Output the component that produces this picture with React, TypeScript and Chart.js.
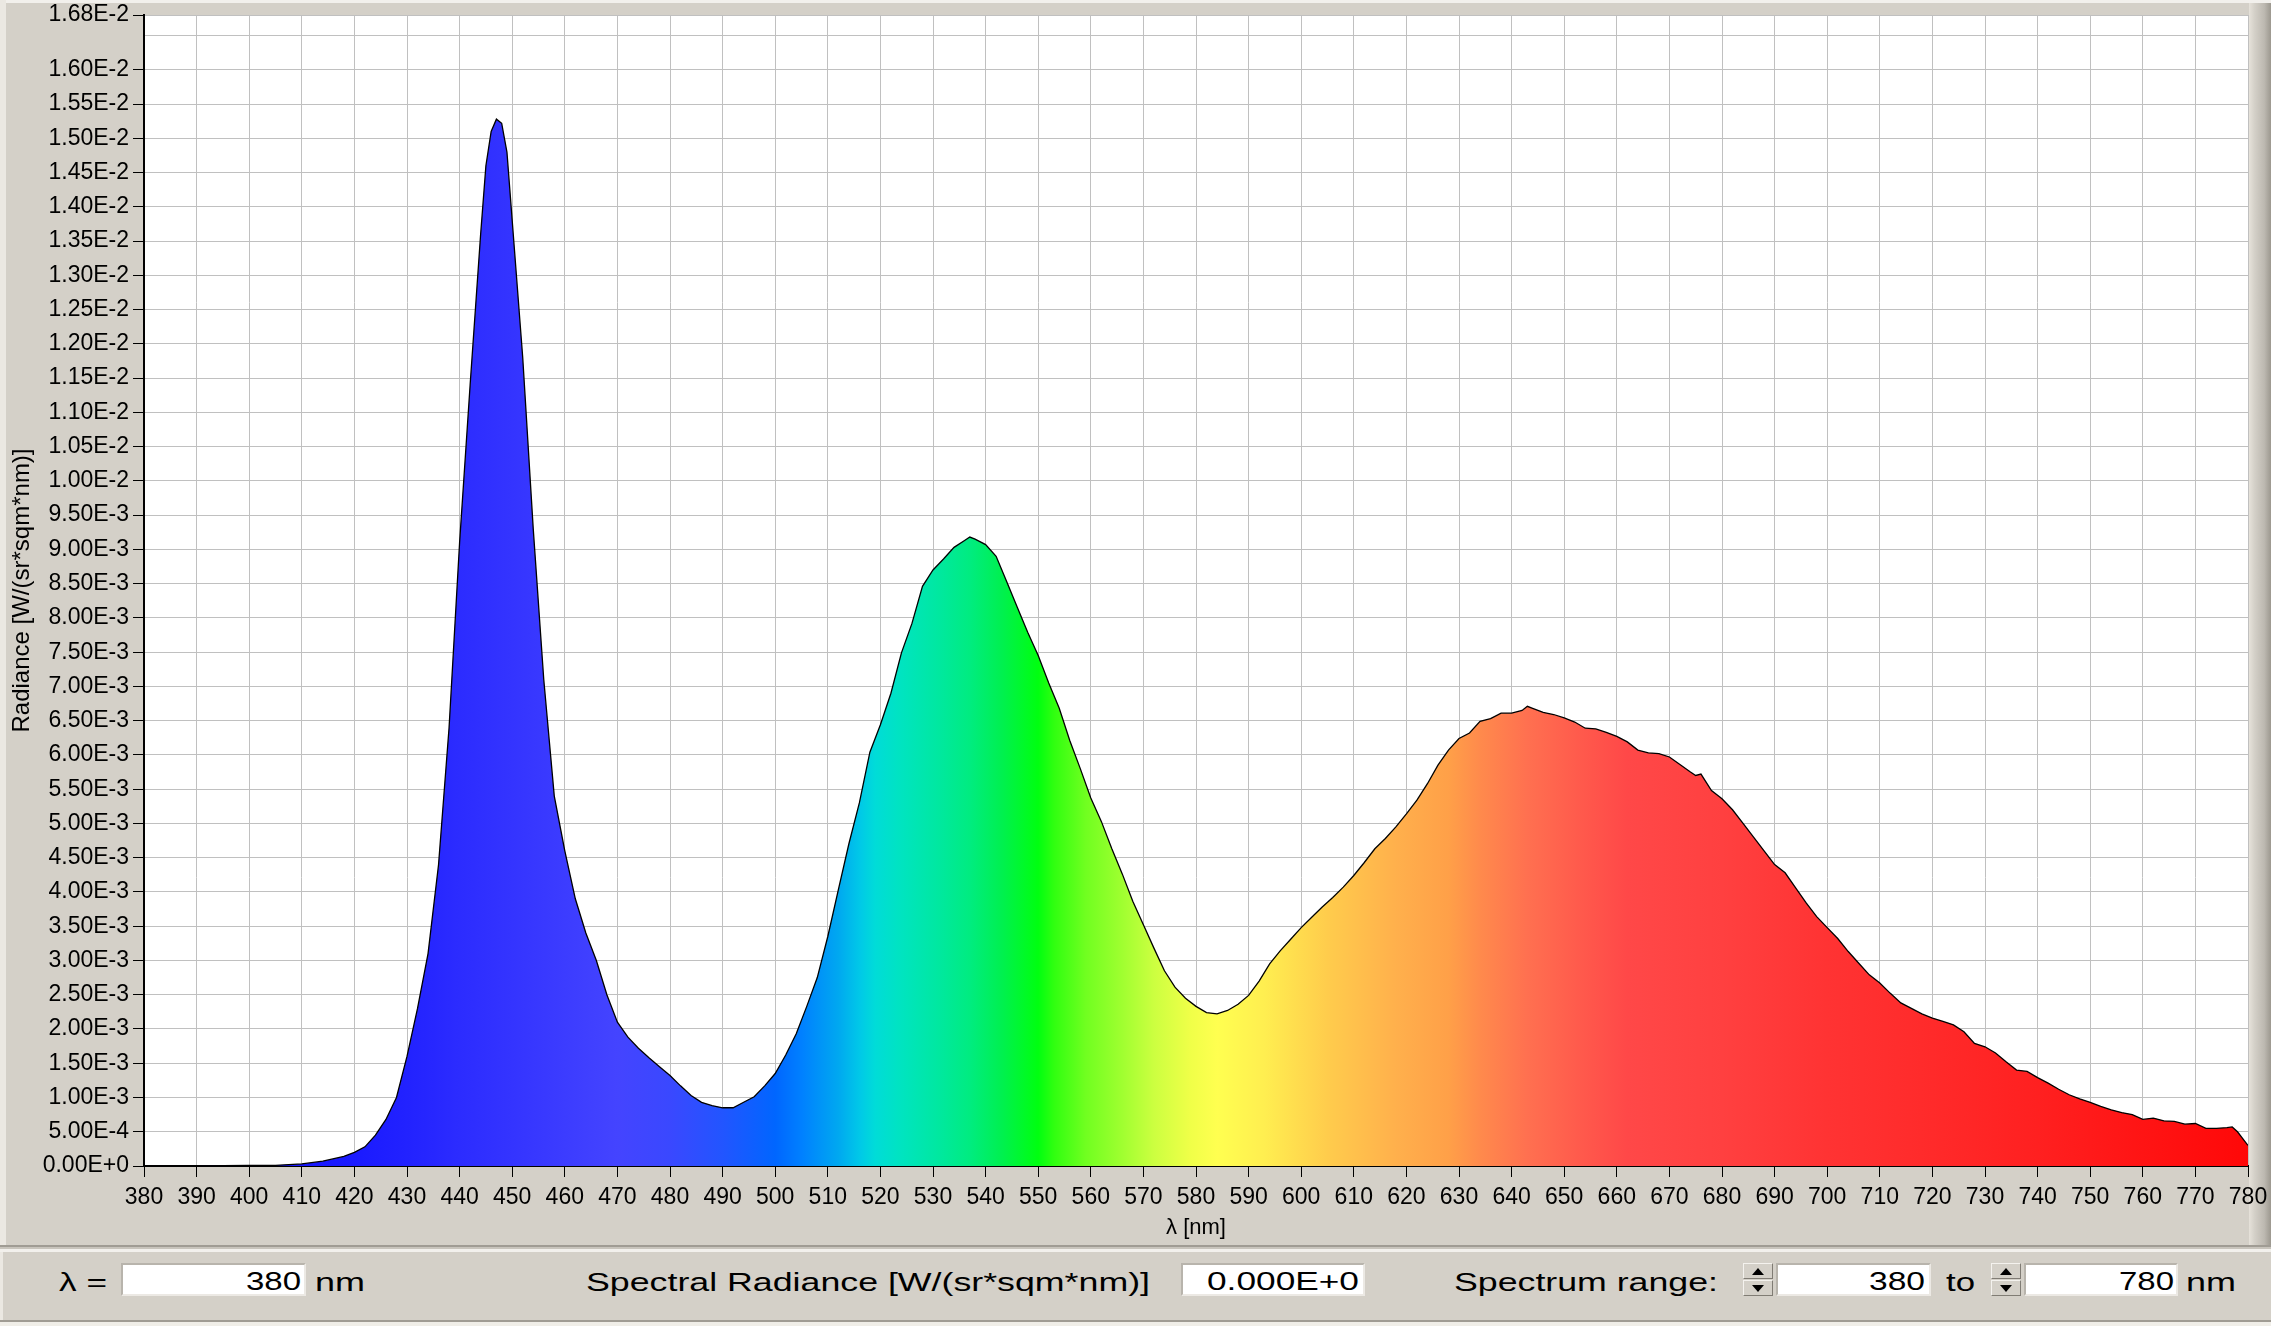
import React, { useEffect, useLayoutEffect, useRef } from 'react';
import { Chart, registerables } from 'chart.js';

Chart.register(...registerables);

// ---------------- DATA ----------------
const WAVELENGTHS = [
  380, 390, 400, 405, 410, 414, 418, 420, 422, 424, 426, 428, 430, 432, 434, 436, 438, 440, 442, 444,
  445, 446, 447, 448, 449, 450, 452, 454, 456, 458, 460, 462, 464, 466, 468, 470, 472, 474, 476, 478,
  480, 482, 484, 486, 488, 490, 492, 494, 496, 498, 500, 502, 504, 506, 508, 510, 512, 514, 516, 518,
  520, 522, 524, 526, 528, 530, 532, 534, 536, 537, 538, 540, 542, 544, 546, 548, 550, 552, 554, 556,
  558, 560, 562, 564, 566, 568, 570, 572, 574, 576, 578, 580, 582, 584, 586, 588, 590, 592, 594, 596,
  598, 600, 602, 604, 606, 608, 610, 612, 614, 616, 618, 620, 622, 624, 626, 628, 630, 632, 634, 636,
  638, 640, 642, 643, 644, 646, 648, 650, 652, 654, 656, 658, 660, 662, 664, 666, 668, 670, 672, 674,
  675, 676, 678, 680, 682, 684, 686, 688, 690, 692, 694, 696, 698, 700, 702, 704, 706, 708, 710, 712,
  714, 716, 718, 720, 722, 724, 726, 728, 730, 732, 734, 736, 738, 740, 742, 744, 746, 748, 750, 752,
  754, 756, 758, 760, 762, 764, 766, 768, 770, 772, 774, 776, 777, 778, 780,
];

const RADIANCE = [
  0, 0, 0.00001, 0.00001, 0.00003, 0.00007, 0.00014, 0.0002, 0.00028, 0.00045, 0.00068, 0.001, 0.0016, 0.0023, 0.0031, 0.0044, 0.0064, 0.0091, 0.0114, 0.0136,
  0.0146, 0.0151, 0.01528, 0.01522, 0.0148, 0.0138, 0.0118, 0.0093, 0.0071, 0.0054, 0.0046, 0.0039, 0.0034, 0.003, 0.0025, 0.0021, 0.00188, 0.00172, 0.00158, 0.00145,
  0.00132, 0.00117, 0.00103, 0.00093, 0.00088, 0.00085, 0.00085, 0.00093, 0.00101, 0.00117, 0.00135, 0.00162, 0.00193, 0.00233, 0.00275, 0.00335, 0.00403, 0.0047, 0.0053, 0.00604,
  0.00644, 0.0069, 0.00749, 0.00792, 0.00846, 0.0087, 0.00886, 0.00903, 0.00913, 0.00918, 0.00915, 0.00907, 0.0089, 0.00853, 0.00816, 0.00779, 0.00745, 0.00705, 0.00668, 0.00621,
  0.0058, 0.00537, 0.00503, 0.00463, 0.00426, 0.00386, 0.00352, 0.00318, 0.00285, 0.00261, 0.00245, 0.00233, 0.00224, 0.00222, 0.00227, 0.00236, 0.00249, 0.0027, 0.00295, 0.00314,
  0.00331, 0.00348, 0.00363, 0.00378, 0.00392, 0.00407, 0.00424, 0.00443, 0.00463, 0.00478, 0.00495, 0.00514, 0.00534, 0.00558, 0.00585, 0.00607, 0.00624, 0.00632, 0.00649, 0.00653,
  0.00661, 0.00661, 0.00665, 0.00671, 0.00668, 0.00662, 0.00659, 0.00654, 0.00648, 0.00639, 0.00638, 0.00633, 0.00627, 0.00619, 0.00607, 0.00603, 0.00602, 0.00597, 0.00586, 0.00575,
  0.0057, 0.00572, 0.00548, 0.00536, 0.0052, 0.005, 0.0048, 0.0046, 0.0044, 0.00428, 0.00406, 0.00384, 0.00364, 0.00348, 0.00332, 0.00313, 0.00296, 0.00279, 0.00267, 0.00252,
  0.00238, 0.0023, 0.00222, 0.00216, 0.00211, 0.00206, 0.00196, 0.00179, 0.00174, 0.00165, 0.00152, 0.0014, 0.00138, 0.00129, 0.00121, 0.00112, 0.00104, 0.00098, 0.00093, 0.00087,
  0.00082, 0.00078, 0.00075, 0.00068, 0.0007, 0.00066, 0.00065, 0.00061, 0.00062, 0.00055, 0.00055, 0.00056, 0.00057, 0.0005, 0.0003,
];

const X_TICKS = [
  380, 390, 400, 410, 420, 430, 440, 450, 460, 470, 480, 490, 500, 510, 520, 530, 540, 550, 560, 570, 580,
  590, 600, 610, 620, 630, 640, 650, 660, 670, 680, 690, 700, 710, 720, 730, 740, 750, 760, 770, 780,
];

const Y_TICKS = [
  0, 0.0005, 0.001, 0.0015, 0.002, 0.0025, 0.003, 0.0035, 0.004, 0.0045, 0.005, 0.0055, 0.006, 0.0065,
  0.007, 0.0075, 0.008, 0.0085, 0.009, 0.0095, 0.01, 0.0105, 0.011, 0.0115, 0.012, 0.0125, 0.013, 0.0135,
  0.014, 0.0145, 0.015, 0.0155, 0.016, 0.0165, 0.0168,
];

const Y_TICK_LABELS = [
  '0.00E+0', '5.00E-4', '1.00E-3', '1.50E-3', '2.00E-3', '2.50E-3', '3.00E-3', '3.50E-3', '4.00E-3', '4.50E-3',
  '5.00E-3', '5.50E-3', '6.00E-3', '6.50E-3', '7.00E-3', '7.50E-3', '8.00E-3', '8.50E-3', '9.00E-3', '9.50E-3',
  '1.00E-2', '1.05E-2', '1.10E-2', '1.15E-2', '1.20E-2', '1.25E-2', '1.30E-2', '1.35E-2', '1.40E-2', '1.45E-2',
  '1.50E-2', '1.55E-2', '1.60E-2', '', '1.68E-2',
];

// spectral fill colour stops
const SPECTRUM_NM = [
  380, 420, 430, 440, 450, 460, 470, 480, 490, 500, 505, 512, 516, 519, 524, 531, 537, 543, 550, 553,
  559, 566, 572, 579, 584, 593, 605, 618, 628, 634, 643, 653, 662, 680, 700, 720, 740, 760, 780,
];
const SPECTRUM_COLORS = [
  '#1010ff', '#1a1aff', '#2222ff', '#2c2cff', '#3434ff', '#3c3cff', '#4444ff', '#3a48ff', '#2255ff', '#0066ff',
  '#0080ff', '#00a8f0', '#00c8e8', '#00dcd8', '#00e4c0', '#00e8a0', '#00ec80', '#00f050', '#00ff10', '#30ff10',
  '#70ff20', '#a0ff30', '#ccff40', '#f0ff48', '#ffff50', '#ffee50', '#ffcc4c', '#ffb04c', '#ffa048', '#ff8a4c',
  '#ff7050', '#ff5a4c', '#ff4848', '#ff4040', '#ff3333', '#ff2a2a', '#ff2020', '#ff1414', '#ff0808',
];

const FONT = '"Liberation Sans", Arial, Helvetica, sans-serif';
const BG = '#d4d0c8';
const X_MIN = X_TICKS[0];
const X_MAX = X_TICKS[X_TICKS.length - 1];
const Y_MAX = Y_TICKS[Y_TICKS.length - 1];

function spectrumFill(context: any) {
  const chart = context.chart;
  const xs = chart.scales && chart.scales.x;
  if (!chart.chartArea || !xs) return '#3333ff';
  const g = chart.ctx.createLinearGradient(xs.getPixelForValue(X_MIN), 0, xs.getPixelForValue(X_MAX), 0);
  SPECTRUM_NM.forEach((nm, i) => g.addColorStop((nm - X_MIN) / (X_MAX - X_MIN), SPECTRUM_COLORS[i]));
  return g;
}

const plotBackground = {
  id: 'plotBackground',
  beforeDraw(chart: any) {
    const { ctx, chartArea: a } = chart;
    if (!a) return;
    ctx.save();
    ctx.fillStyle = '#ffffff';
    ctx.fillRect(a.left, a.top, a.right - a.left, a.bottom - a.top);
    ctx.restore();
  },
};

function FitText({ text, left, width, baseline, size = 25 }: { text: string; left: number; width: number; baseline: number; size?: number }) {
  const ref = useRef<HTMLSpanElement>(null);
  useLayoutEffect(() => {
    const el = ref.current;
    if (!el) return;
    el.style.transform = 'none';
    const w = el.getBoundingClientRect().width;
    if (w > 0) el.style.transform = `scaleX(${width / w})`;
  }, [text, width]);
  return (
    <span
      ref={ref}
      style={{
        position: 'absolute',
        left,
        top: baseline - Math.round(size * 0.846),
        fontSize: size,
        lineHeight: `${size}px`,
        fontFamily: FONT,
        whiteSpace: 'nowrap',
        transformOrigin: 'left center',
        color: '#000',
      }}
    >
      {text}
    </span>
  );
}

function Box({ left, width }: { left: number; width: number }) {
  return (
    <div
      style={{
        position: 'absolute',
        left,
        top: 1263,
        width,
        height: 33,
        boxSizing: 'border-box',
        background: '#fff',
        borderTop: '2px solid #b8b4ac',
        borderLeft: '2px solid #b8b4ac',
        borderBottom: '2px solid #ece9e4',
        borderRight: '2px solid #ece9e4',
      }}
    />
  );
}

function Spinner({ left }: { left: number }) {
  const half = (top: number, up: boolean) => (
    <div
      style={{
        position: 'absolute',
        left: 0,
        top,
        width: 30,
        height: 16,
        boxSizing: 'border-box',
        background: BG,
        borderTop: '1px solid #f4f2ee',
        borderLeft: '1px solid #f4f2ee',
        borderBottom: '1px solid #807c74',
        borderRight: '1px solid #807c74',
      }}
    >
      <div
        style={{
          position: 'absolute',
          left: 8,
          top: 4,
          width: 0,
          height: 0,
          borderLeft: '6px solid transparent',
          borderRight: '6px solid transparent',
          ...(up ? { borderBottom: '7px solid #000' } : { borderTop: '7px solid #000' }),
        }}
      />
    </div>
  );
  return (
    <div style={{ position: 'absolute', left, top: 1263, width: 30, height: 33 }}>
      {half(0, true)}
      {half(17, false)}
    </div>
  );
}

export default function App() {
  const canvasRef = useRef<HTMLCanvasElement>(null);

  useEffect(() => {
    const canvas = canvasRef.current;
    if (!canvas) return;
    const tickFont = { family: FONT, size: 23 };
    const chart = new Chart(canvas, {
      type: 'line',
      data: {
        datasets: [
          {
            label: 'Radiance',
            data: WAVELENGTHS.map((x, i) => ({ x, y: RADIANCE[i] })),
            borderColor: '#000',
            borderWidth: 1.3,
            pointRadius: 0,
            tension: 0,
            fill: 'origin',
            backgroundColor: spectrumFill,
          },
        ],
      },
      options: {
        animation: false,
        responsive: false,
        devicePixelRatio: 1,
        events: [],
        layout: { padding: { top: 15, right: 23, left: 0, bottom: 0 }, autoPadding: false },
        plugins: { legend: { display: false }, tooltip: { enabled: false }, title: { display: false } },
        scales: {
          x: {
            type: 'linear',
            min: X_MIN,
            max: X_MAX,
            afterBuildTicks: (scale: any) => {
              scale.ticks = X_TICKS.map((v) => ({ value: v }));
            },
            afterFit: (scale: any) => {
              scale.height = 79;
              scale.paddingLeft = 0;
              scale.paddingRight = 0;
            },
            ticks: {
              autoSkip: false,
              maxRotation: 0,
              padding: 7,
              color: '#000',
              font: tickFont,
              callback: (_v: any, i: number) => String(X_TICKS[i]),
            },
            grid: { color: '#c0c0c0', lineWidth: 1, tickColor: '#000', tickLength: 11, drawTicks: true },
            border: { display: true, color: '#000', width: 2 },
            title: { display: true, text: 'λ [nm]', color: '#000', font: { family: FONT, size: 22 }, padding: { top: 0, bottom: 4 } },
          },
          y: {
            type: 'linear',
            min: 0,
            max: Y_MAX,
            afterBuildTicks: (scale: any) => {
              scale.ticks = Y_TICKS.map((v) => ({ value: v }));
            },
            afterFit: (scale: any) => {
              scale.width = 144;
              scale.paddingTop = 0;
              scale.paddingBottom = 0;
            },
            ticks: {
              autoSkip: false,
              padding: 4,
              color: '#000',
              font: tickFont,
              callback: (_v: any, i: number) => Y_TICK_LABELS[i],
            },
            grid: {
              color: '#c0c0c0',
              lineWidth: 1,
              tickLength: 11,
              drawTicks: true,
              tickColor: (ctx: any) => (Y_TICK_LABELS[ctx.index] === '' ? 'rgba(0,0,0,0)' : '#000'),
            },
            border: { display: true, color: '#000', width: 2 },
            title: {
              display: true,
              text: 'Radiance [W/(sr*sqm*nm)]',
              color: '#000',
              font: { family: FONT, size: 24 },
              padding: { top: 8, bottom: 0 },
            },
          },
        },
      },
      plugins: [plotBackground],
    } as any);
    return () => chart.destroy();
  }, []);

  return (
    <div
      style={{
        position: 'fixed',
        left: 0,
        top: 0,
        width: 2271,
        height: 1326,
        background: BG,
        overflow: 'hidden',
        fontFamily: FONT,
      }}
    >
      {/* window bevels */}
      <div style={{ position: 'absolute', left: 0, top: 0, width: 2271, height: 3, background: '#f2f0ec' }} />
      <div style={{ position: 'absolute', left: 0, top: 0, width: 6, height: 1246, background: '#ebe8e2' }} />
      <div style={{ position: 'absolute', left: 0, top: 1252, width: 3, height: 70, background: '#ebe8e2' }} />
      <div
        style={{
          position: 'absolute',
          left: 2249,
          top: 3,
          width: 22,
          height: 1243,
          background: 'linear-gradient(to right, #e6e2da 0%, #d4d0c8 25%, #bcb8b0 70%, #9c988f 100%)',
        }}
      />
      <canvas
        ref={canvasRef}
        width={2271}
        height={1245}
        style={{ position: 'absolute', left: 0, top: 0, width: 2271, height: 1245 }}
      />
      {/* separator between chart and control panel */}
      <div style={{ position: 'absolute', left: 0, top: 1245, width: 2271, height: 2, background: '#a09c94' }} />
      <div style={{ position: 'absolute', left: 0, top: 1247, width: 2271, height: 2, background: '#c8c4bc' }} />
      <div style={{ position: 'absolute', left: 0, top: 1249, width: 2271, height: 3, background: '#f2f0ec' }} />
      <div style={{ position: 'absolute', left: 0, top: 1320, width: 2271, height: 2, background: '#a09c94' }} />
      <div style={{ position: 'absolute', left: 0, top: 1322, width: 2271, height: 4, background: '#f0eee8' }} />

      {/* control panel */}
      <FitText text="λ =" left={59} width={48} baseline={1291} />
      <Box left={121} width={185} />
      <FitText text="380" left={246} width={55} baseline={1290} />
      <FitText text="nm" left={315} width={50} baseline={1291} />

      <FitText text="Spectral Radiance [W/(sr*sqm*nm)]" left={586} width={564} baseline={1291} />
      <Box left={1181} width={184} />
      <FitText text="0.000E+0" left={1207} width={152} baseline={1290} />

      <FitText text="Spectrum range:" left={1454} width={264} baseline={1291} />
      <Spinner left={1743} />
      <Box left={1776} width={155} />
      <FitText text="380" left={1869} width={56} baseline={1290} />
      <FitText text="to" left={1946} width={29} baseline={1291} />
      <Spinner left={1991} />
      <Box left={2024} width={154} />
      <FitText text="780" left={2119} width={55} baseline={1290} />
      <FitText text="nm" left={2186} width={50} baseline={1291} />
    </div>
  );
}
